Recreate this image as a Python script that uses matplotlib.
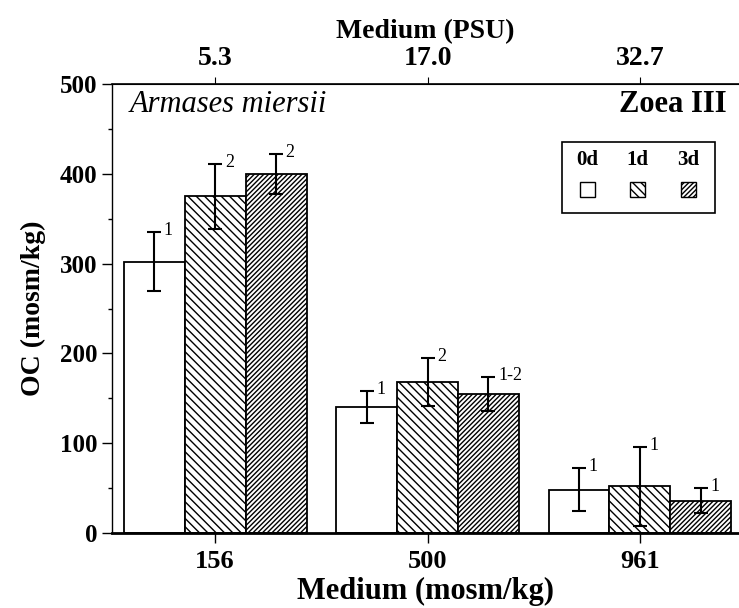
import matplotlib
matplotlib.use("Agg")
import matplotlib.pyplot as plt
from matplotlib.patches import Rectangle
import numpy as np

plt.rcParams['font.family'] = ['Liberation Serif', 'DejaVu Serif']
plt.rcParams['hatch.linewidth'] = 1.0

# data
media = ['156', '500', '961']
psu = ['5.3', '17.0', '32.7']
days = ['0d', '1d', '3d']
oc_0d = [302, 140, 48]
oc_1d = [375, 168, 52]
oc_3d = [400, 155, 36]
err_0d = [33, 18, 24]
err_1d = [36, 27, 44]
err_3d = [22, 19, 14]
sig_0d = ['1', '1', '1']
sig_1d = ['2', '2', '1']
sig_3d = ['2', '1-2', '1']

hatches = ['', '\\' * 4, '/' * 7]
series = [oc_0d, oc_1d, oc_3d]
errors = [err_0d, err_1d, err_3d]
sigs = [sig_0d, sig_1d, sig_3d]

fig = plt.figure(figsize=(7.39, 6.08), dpi=100)
ax = fig.add_axes([112/739, 1 - 533/608, 1 - 112/739, (533 - 84)/608])

x = np.arange(len(media))
w = 0.287
for i, (vals, errs, lab) in enumerate(zip(series, errors, sigs)):
    pos = x + (i - 1) * w
    ax.bar(pos, vals, width=w, color='white', edgecolor='black',
           linewidth=1.3, hatch=hatches[i], zorder=2)
    ax.errorbar(pos, vals, yerr=errs, fmt='none', ecolor='black',
                elinewidth=1.5, capsize=5, capthick=1.5, zorder=3)
    for p, v, e, s in zip(pos, vals, errs, lab):
        ax.annotate(s, (p, v + e), xytext=(7, 1), textcoords='offset points',
                    ha='left', va='center', fontsize=13)

ax.set_xlim(-0.485, 2.466)
ax.set_ylim(0, 500)
ax.set_xticks(x)
ax.set_xticklabels(media)
ax.set_yticks(np.arange(0, 501, 100))
ax.set_yticks(np.arange(50, 500, 100), minor=True)
ax.tick_params(axis='both', which='major', direction='out', length=7, width=1,
               labelsize=19)
ax.tick_params(axis='y', labelsize=18)
ax.tick_params(axis='x', pad=5)
ax.tick_params(axis='y', which='minor', direction='out', length=3, width=1)
for t in ax.get_xticklabels() + ax.get_yticklabels():
    t.set_fontweight('bold')
ax.spines['right'].set_visible(False)
ax.spines['bottom'].set_linewidth(2)
ax.spines['left'].set_linewidth(1)
ax.spines['top'].set_linewidth(1.2)

ax.set_xlabel('Medium (mosm/kg)', fontsize=22, fontweight='bold', labelpad=3)
ax.set_ylabel('OC (mosm/kg)', fontsize=20, fontweight='bold', labelpad=10)

top = ax.secondary_xaxis('top')
top.set_xticks(x)
top.set_xticklabels(psu)
top.tick_params(direction='out', length=5, labelsize=20, pad=4)
for t in top.get_xticklabels():
    t.set_fontweight('bold')
top.set_xlabel('Medium (PSU)', fontsize=20, fontweight='bold', labelpad=6)

ax.text(18/627, 0.955, 'Armases miersii', transform=ax.transAxes, fontsize=22,
        style='italic', ha='left', va='center')
ax.text(615/627, 0.955, 'Zoea III', transform=ax.transAxes, fontsize=22,
        fontweight='bold', ha='right', va='center')

# legend box drawn by hand (labels above swatches)
lx0, lx1 = (562 - 112)/627, (715 - 112)/627
ly0, ly1 = (533 - 213)/449, (533 - 142)/449
ax.add_patch(Rectangle((lx0, ly0), lx1 - lx0, ly1 - ly0, transform=ax.transAxes,
                       facecolor='white', edgecolor='black', linewidth=1.2, zorder=5))
for j, (d, h) in enumerate(zip(days, hatches)):
    cx = (587 + j * 50.5 - 112)/627
    ax.text(cx, (533 - 160)/449, d, transform=ax.transAxes, fontsize=15,
            fontweight='bold', ha='center', va='center', zorder=6)
    sw, sh = 15/627, 15/449
    ax.add_patch(Rectangle((cx - sw/2, (533 - 189)/449 - sh/2), sw, sh,
                           transform=ax.transAxes, facecolor='white',
                           edgecolor='black', hatch=h, linewidth=1, zorder=6))

fig.savefig('out.png', dpi=100)
